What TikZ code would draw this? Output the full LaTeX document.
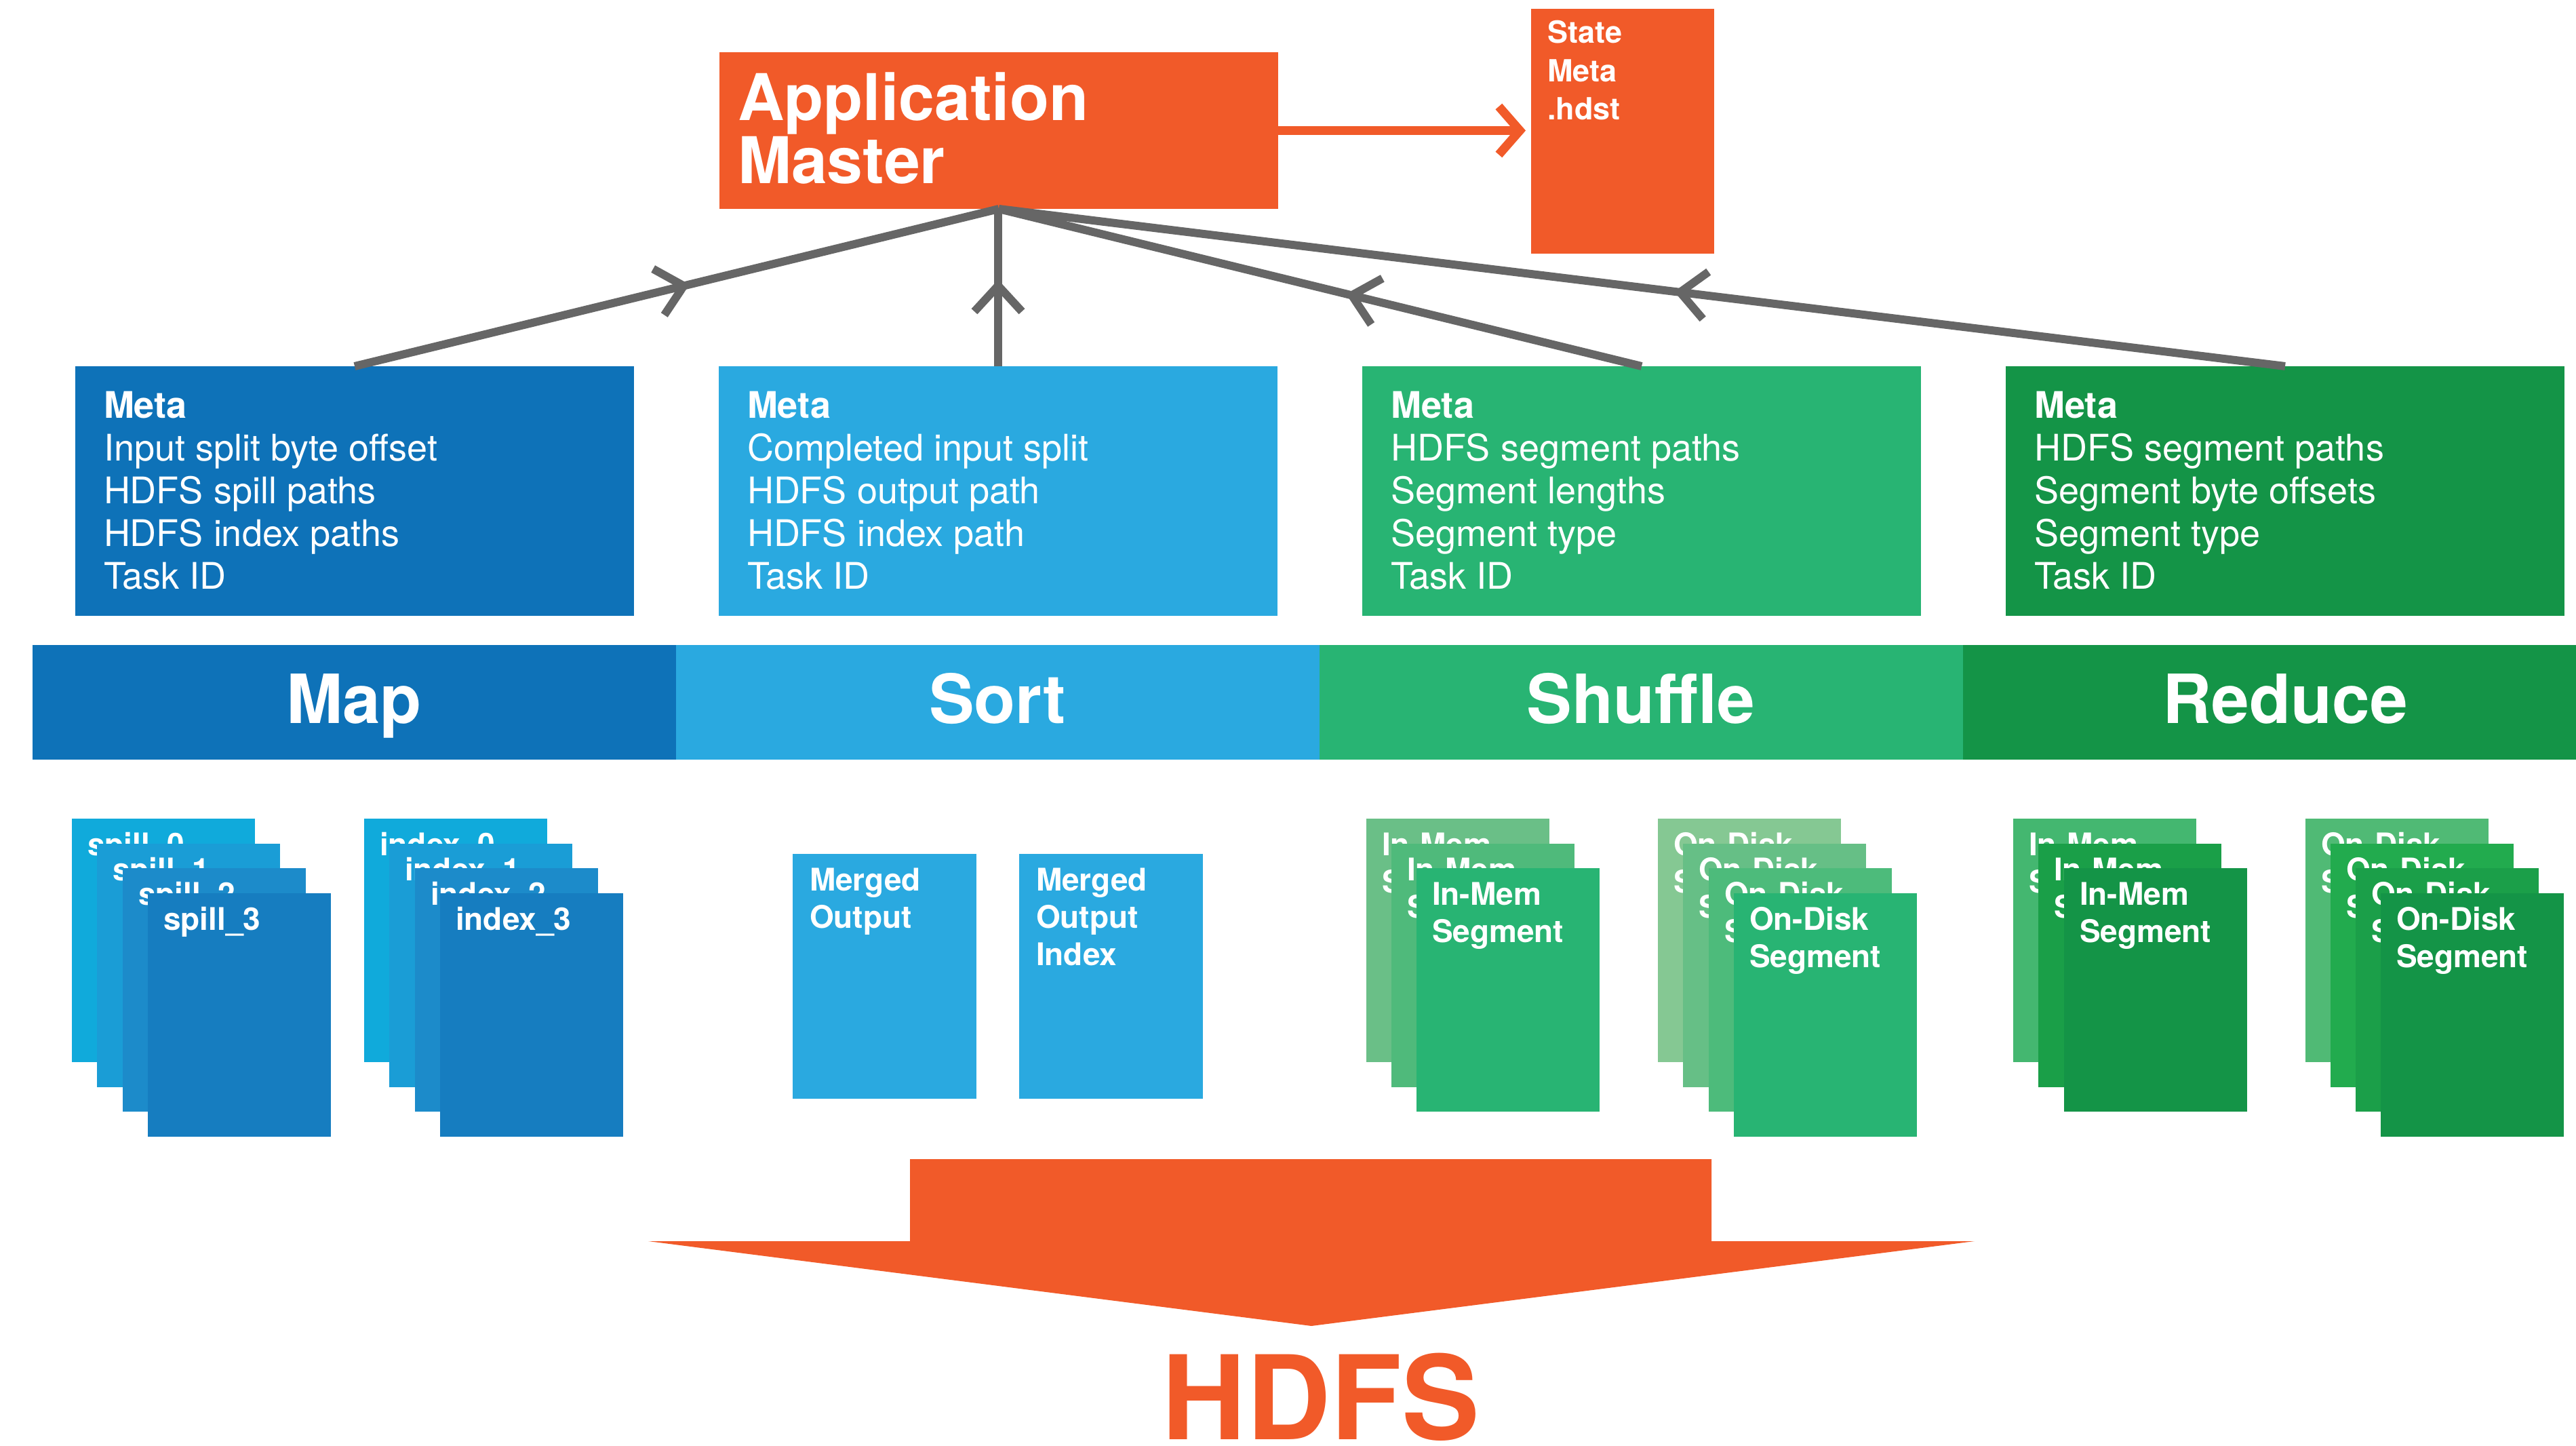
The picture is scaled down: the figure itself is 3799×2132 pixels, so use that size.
\documentclass[tikz,border=0pt]{standalone}
\usepackage{fontspec}
\setmainfont{TeX Gyre Heros}
\usetikzlibrary{arrows.meta,decorations.markings}
\definecolor{orng}{HTML}{F15A29}
\definecolor{mapc}{HTML}{0E72B8}
\definecolor{sortc}{HTML}{2AA9E0}
\definecolor{shufc}{HTML}{28B473}
\definecolor{redc}{HTML}{149447}
\definecolor{grayc}{HTML}{666666}
% map page tones
\definecolor{mpA}{HTML}{10AADB}
\definecolor{mpB}{HTML}{1A9DD6}
\definecolor{mpC}{HTML}{1C8BCA}
\definecolor{mpD}{HTML}{167DC0}
% shuffle page tones
\definecolor{shA}{HTML}{6ABF87}
\definecolor{shB}{HTML}{4FBA7B}
\definecolor{sdA}{HTML}{85C893}
\definecolor{sdB}{HTML}{66BF86}
\definecolor{sdC}{HTML}{4DBB7B}
% reduce page tones
\definecolor{rmA}{HTML}{44B770}
\definecolor{rmB}{HTML}{1A9F48}
\definecolor{rdA}{HTML}{50BA75}
\definecolor{rdB}{HTML}{22AB4E}
\definecolor{rdC}{HTML}{1B9F49}
\newcommand\pgbox[5]{%
  \node[blk, fill=#4, minimum width=270pt, minimum height=359pt] (#1) at (#2,#3) {};
  \node[pgtxt] (#1t) at ([xshift=23pt,yshift=-14pt]#1.north west) {\rule{0pt}{40pt}#5};}
\begin{document}
\begin{tikzpicture}[x=1pt,y=-1pt,
  blk/.style={inner sep=0pt, outer sep=0pt, anchor=north west, draw=none},
  txt/.style={inner sep=0pt, outer sep=0pt, anchor=north west, align=left, text=white},
  metatxt/.style={txt, font=\fontsize{54}{63}\selectfont},
  pgtxt/.style={txt, font=\bfseries\fontsize{46}{55}\selectfont},
  phase/.style={anchor=base, inner sep=0pt, text=white, font=\bfseries\fontsize{100}{100}\selectfont},
  conn/.style={draw=grayc, line width=12pt, postaction={decorate},
    decoration={markings, mark=at position #1 with {\arrow{Straight Barb[length=38pt,width=70pt]}}}},
  conn/.default=0.5
  ]
\useasboundingbox (0,0) rectangle (3799,2132);

% Application master and state file
\node[blk, fill=orng, minimum width=824pt, minimum height=231pt] (am) at (1061,77) {};
\node[txt, font=\bfseries\fontsize{95}{93}\selectfont] (amt) at (1088,98) {\rule{0pt}{80pt}Application\\Master};
\node[blk, fill=orng, minimum width=270pt, minimum height=361pt] (state) at (2258,13) {};
\node[txt, font=\bfseries\fontsize{45}{56.5}\selectfont] (statet) at (2282,24) {\rule{0pt}{40pt}State\\Meta\\.hdst};

% Meta boxes
\node[blk, fill=mapc,  minimum width=824pt, minimum height=368pt] (meta1) at (111,540) {};
\node[blk, fill=sortc, minimum width=824pt, minimum height=368pt] (meta2) at (1060,540) {};
\node[blk, fill=shufc, minimum width=824pt, minimum height=368pt] (meta3) at (2009,540) {};
\node[blk, fill=redc,  minimum width=824pt, minimum height=368pt] (meta4) at (2958,540) {};
\node[metatxt] (meta1t) at ([xshift=42pt,yshift=-31pt]meta1.north west) {\rule{0pt}{45pt}\textbf{Meta}\\Input split byte offset\\HDFS spill paths\\HDFS index paths\\Task ID};
\node[metatxt] (meta2t) at ([xshift=42pt,yshift=-31pt]meta2.north west) {\rule{0pt}{45pt}\textbf{Meta}\\Completed input split\\HDFS output path\\HDFS index path\\Task ID};
\node[metatxt] (meta3t) at ([xshift=42pt,yshift=-31pt]meta3.north west) {\rule{0pt}{45pt}\textbf{Meta}\\HDFS segment paths\\Segment lengths\\Segment type\\Task ID};
\node[metatxt] (meta4t) at ([xshift=42pt,yshift=-31pt]meta4.north west) {\rule{0pt}{45pt}\textbf{Meta}\\HDFS segment paths\\Segment byte offsets\\Segment type\\Task ID};

% connectors
\draw[conn=0.52] (meta1.north) -- (am.south);
\draw[conn=0.55] (meta2.north) -- (meta2.north |- am.south);
\draw[conn=0.46] (meta3.north) -- (am.south);
\draw[conn=0.475] (meta4.north) -- (am.south);
\draw[orng, line width=13pt, -{Straight Barb[length=31pt,width=71pt]}, shorten >=8pt] (am.east) -- (state.west |- am.east);

% phase bar
\node[blk, fill=mapc,  minimum width=949pt, minimum height=169pt] (mapbar) at (48,951) {};
\node[blk, fill=sortc, minimum width=949pt, minimum height=169pt] (sortbar) at (997,951) {};
\node[blk, fill=shufc, minimum width=949pt, minimum height=169pt] (shufbar) at (1946,951) {};
\node[blk, fill=redc,  minimum width=904pt, minimum height=169pt] (redbar) at (2895,951) {};
\node[phase] (mapl) at (522,1066) {Map};
\node[phase] (sortl) at (1471,1066) {Sort};
\node[phase] (shufl) at (2420,1066) {Shuffle};
\node[phase] (redl) at (3370,1066) {Reduce};

% map pages
\pgbox{sp0}{106}{1207}{mpA}{spill\_0}
\pgbox{sp1}{143}{1244}{mpB}{spill\_1}
\pgbox{sp2}{181}{1280}{mpC}{spill\_2}
\pgbox{sp3}{218}{1317}{mpD}{spill\_3}
\pgbox{ix0}{537}{1207}{mpA}{index\_0}
\pgbox{ix1}{574}{1244}{mpB}{index\_1}
\pgbox{ix2}{612}{1280}{mpC}{index\_2}
\pgbox{ix3}{649}{1317}{mpD}{index\_3}

% sort outputs
\node[blk, fill=sortc, minimum width=271pt, minimum height=361pt] (mo) at (1169,1259) {};
\node[blk, fill=sortc, minimum width=271pt, minimum height=361pt] (mi) at (1503,1259) {};
\node[pgtxt] (mot) at ([xshift=25pt,yshift=-14pt]mo.north west) {\rule{0pt}{40pt}Merged\\Output};
\node[pgtxt] (mit) at ([xshift=25pt,yshift=-14pt]mi.north west) {\rule{0pt}{40pt}Merged\\Output\\Index};

% shuffle pages
\pgbox{sm0}{2015}{1207}{shA}{In-Mem\\Segment}
\pgbox{sm1}{2052}{1244}{shB}{In-Mem\\Segment}
\pgbox{sm2}{2089}{1280}{shufc}{In-Mem\\Segment}
\pgbox{sd0}{2445}{1207}{sdA}{On-Disk\\Segment}
\pgbox{sd1}{2482}{1244}{sdB}{On-Disk\\Segment}
\pgbox{sd2}{2520}{1280}{sdC}{On-Disk\\Segment}
\pgbox{sd3}{2557}{1317}{shufc}{On-Disk\\Segment}

% reduce pages
\pgbox{rm0}{2969}{1207}{rmA}{In-Mem\\Segment}
\pgbox{rm1}{3006}{1244}{rmB}{In-Mem\\Segment}
\pgbox{rm2}{3044}{1280}{redc}{In-Mem\\Segment}
\pgbox{rd0}{3400}{1207}{rdA}{On-Disk\\Segment}
\pgbox{rd1}{3437}{1244}{rdB}{On-Disk\\Segment}
\pgbox{rd2}{3474}{1280}{rdC}{On-Disk\\Segment}
\pgbox{rd3}{3511}{1317}{redc}{On-Disk\\Segment}

% HDFS arrow
\fill[orng] (1342,1709) -- (2524,1709) -- (2524,1830) -- (2912,1830) -- (1934,1955) -- (956,1830) -- (1342,1830) -- cycle;
\node[anchor=base, inner sep=0pt, text=orng, font=\bfseries\fontsize{172}{172}\selectfont] (hdfs) at (1948,2122) {HDFS};
\end{tikzpicture}
\end{document}
